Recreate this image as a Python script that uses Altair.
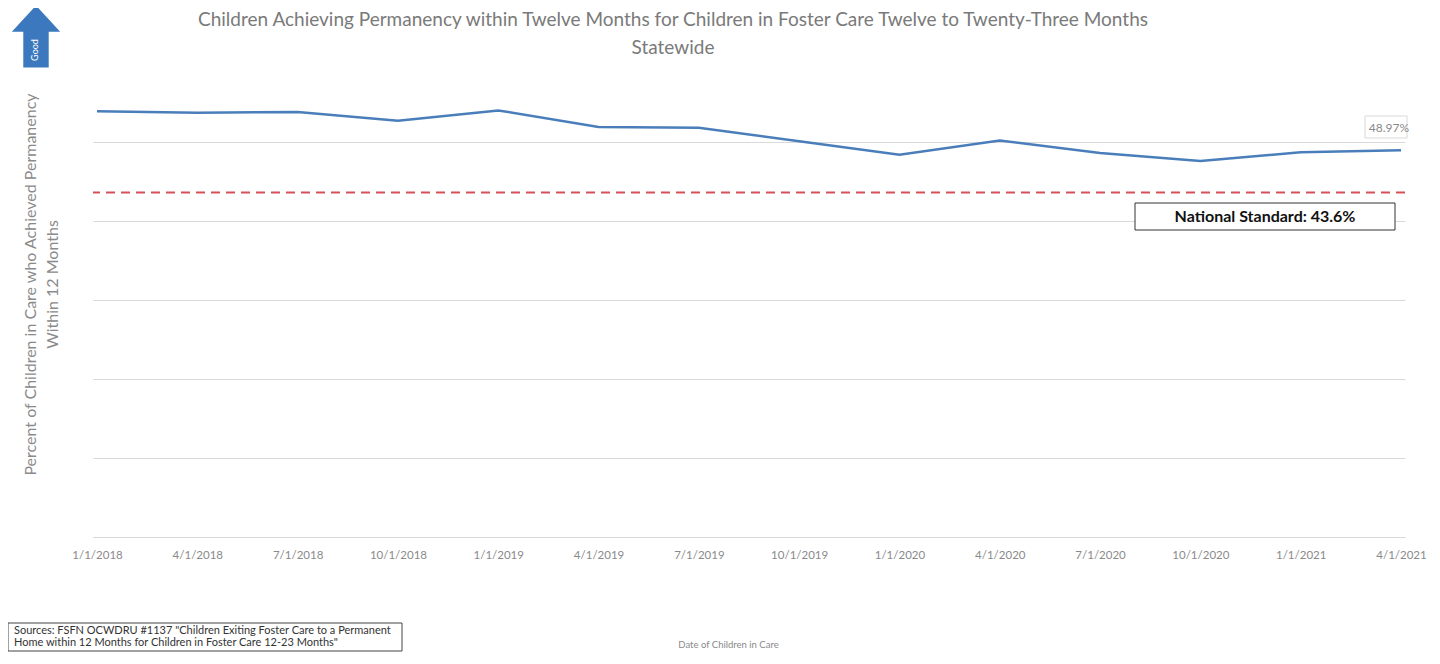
import altair as alt
import pandas as pd

# ---- data ----
dates = ["1/1/2018", "4/1/2018", "7/1/2018", "10/1/2018", "1/1/2019", "4/1/2019",
         "7/1/2019", "10/1/2019", "1/1/2020", "4/1/2020", "7/1/2020", "10/1/2020",
         "1/1/2021", "4/1/2021"]
values = [53.9, 53.7, 53.8, 52.7, 54.0, 51.9, 51.8, 50.1, 48.4, 50.2, 48.6, 47.6, 48.7, 48.97]
national_standard = 43.6
y_gridlines = [0, 10, 20, 30, 40, 50]

title_lines = ["Children Achieving Permanency within Twelve Months for Children in Foster Care Twelve to Twenty-Three Months",
               "Statewide"]
y_title_lines = ["Percent of Children in Care who Achieved Permanency", "Within 12 Months"]
x_title = "Date of Children in Care"
source_lines = ['Sources: FSFN OCWDRU #1137 "Children Exiting Foster Care to a Permanent',
                'Home within 12 Months for Children in Foster Care 12-23 Months"']
standard_label = "National Standard: 43.6%"
good_label = "Good"

FONT = "Lato"
GRAY = "#8a8a8a"
W, H = 1312, 474

df = pd.DataFrame({"date": dates, "value": values})
last_df = pd.DataFrame({"date": [dates[-1]], "value": [values[-1]],
                        "label": [f"{values[-1]:.2f}%"]})
std_df = pd.DataFrame({"value": [national_standard]})
one = pd.DataFrame({"k": [0]})

x_enc = alt.X("date:O", sort=dates,
              scale=alt.Scale(type="point", padding=0.04),
              axis=alt.Axis(title=x_title, labelAngle=0, labelFontSize=11.5, labelColor=GRAY,
                            labelFont=FONT, ticks=False, domainColor="#d9d9d9",
                            labelPadding=12, titleX=635, titleY=107, titleBaseline="middle",
                            titleAlign="center", titleFontSize=9.5, titleFont=FONT,
                            titleFontWeight="normal", titleColor=GRAY))
y_enc = alt.Y("value:Q", scale=alt.Scale(domain=[0, 60], nice=False),
              axis=alt.Axis(title=y_title_lines, values=y_gridlines, labels=False, ticks=False,
                            domain=False, gridColor="#d9d9d9", titleAngle=270, titleX=-71,
                            titleY=221, titleBaseline="top", titleAlign="center",
                            titleFontSize=16, titleFont=FONT, titleFontWeight="normal",
                            titleColor=GRAY, titleLineHeight=22))

line = alt.Chart(df).mark_line(color="#4a7ebb", strokeWidth=2.5).encode(x=x_enc, y=y_enc)

rule = alt.Chart(std_df).mark_rule(color="#d6505a", strokeDash=[9, 6], strokeWidth=2).encode(
    y="value:Q")

val_box = alt.Chart(one).mark_rect(fill="white", stroke="#d9d9d9", strokeWidth=1).encode(
    x=alt.value(1272), x2=alt.value(1314), y=alt.value(53), y2=alt.value(75))
val_text = alt.Chart(last_df).mark_text(font=FONT, fontSize=12, color=GRAY, dx=-12, dy=-22).encode(
    x=alt.X("date:O", sort=dates), y="value:Q", text="label:N")

std_box = alt.Chart(one).mark_rect(fill="white", stroke="#333333", strokeWidth=1).encode(
    x=alt.value(1042), x2=alt.value(1302), y=alt.value(140), y2=alt.value(167))
std_text = alt.Chart(one).mark_text(font=FONT, fontSize=16, fontWeight="bold", color="#111111").encode(
    x=alt.value(1172), y=alt.value(154), text=alt.value(standard_label))

title = alt.Chart(one).mark_text(font=FONT, fontSize=19, color="#7a7a7a", baseline="top",
                                 lineHeight=28, align="center").encode(
    x=alt.value(580), y=alt.value(-52), text=alt.value(title_lines))

arrow_path = "M0,-1 L0.78,-0.15 L0.41,-0.15 L0.41,1 L-0.41,1 L-0.41,-0.15 L-0.78,-0.15 Z"
arrow = alt.Chart(one).mark_point(shape=arrow_path, size=3844, filled=True, fill="#3b78be",
                                  opacity=1, strokeWidth=0).encode(
    x=alt.value(-57), y=alt.value(-26.5))
good = alt.Chart(one).mark_text(font=FONT, fontSize=9, color="white", angle=270).encode(
    x=alt.value(-58), y=alt.value(-13), text=alt.value(good_label))

src_box = alt.Chart(one).mark_rect(fill="white", stroke="#444444", strokeWidth=1).encode(
    x=alt.value(-85), x2=alt.value(309), y=alt.value(560), y2=alt.value(588))
src_text = alt.Chart(one).mark_text(font=FONT, fontSize=11, color="#333333", baseline="top",
                                    align="left", lineHeight=12).encode(
    x=alt.value(-79), y=alt.value(562), text=alt.value(source_lines))

chart = alt.layer(line, rule, val_box, val_text, std_box, std_text, title, arrow, good,
                  src_box, src_text).properties(
    width=W, height=H,
    autosize=alt.AutoSizeParams(type="none"),
    padding={"left": 85, "top": 55, "right": 27, "bottom": 115},
    background="white",
).configure_view(stroke=None)

chart.save("out.html", embed_options={"renderer": "svg", "actions": False})
